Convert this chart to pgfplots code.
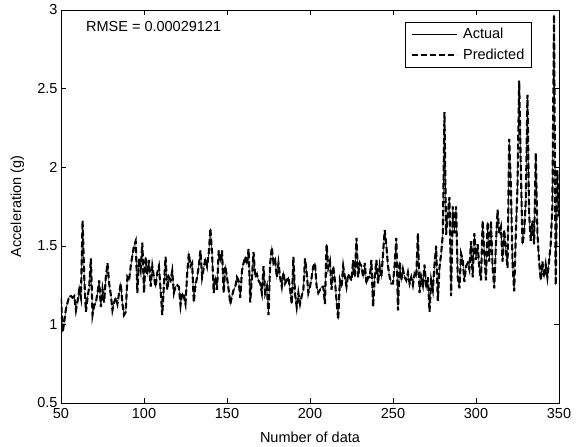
\documentclass[border=0pt]{standalone}
\usepackage{pgfplots}
\usepackage{pgfplotstable}
\pgfplotsset{compat=1.18}
\usepackage{fontspec}
\setmainfont{Liberation Sans}
\newcommand{\fs}{\fontsize{14.5bp}{17bp}\selectfont}
\pgfplotstableread{
x y
50 1.17
51 0.95
52 1.02
53 1.10
54 1.14
55 1.18
56 1.18
57 1.17
58 1.18
59 1.09
60 1.15
61 1.22
62 1.17
63 1.66
64 1.30
65 1.08
66 1.17
67 1.24
68 1.42
69 1.06
70 1.12
71 1.14
72 1.20
73 1.28
74 1.11
75 1.22
76 1.14
77 1.30
78 1.39
79 1.26
80 1.19
81 1.09
82 1.14
83 1.17
84 1.13
85 1.20
86 1.26
87 1.13
88 1.06
89 1.08
90 1.30
91 1.28
92 1.37
93 1.44
94 1.50
95 1.53
96 1.20
97 1.42
98 1.35
99 1.52
100 1.20
101 1.43
102 1.32
103 1.41
104 1.24
105 1.37
106 1.30
107 1.24
108 1.33
109 1.37
110 1.22
111 1.06
112 1.25
113 1.43
114 1.22
115 1.30
116 1.28
117 1.34
118 1.20
119 1.24
120 1.25
121 1.24
122 1.12
123 1.20
124 1.18
125 1.13
126 1.32
127 1.45
128 1.37
129 1.39
130 1.14
131 1.25
132 1.30
133 1.37
134 1.47
135 1.30
136 1.36
137 1.42
138 1.37
139 1.45
140 1.61
141 1.45
142 1.20
143 1.30
144 1.22
145 1.47
146 1.40
147 1.47
148 1.20
149 1.37
150 1.30
151 1.22
152 1.13
153 1.18
154 1.22
155 1.24
156 1.30
157 1.28
158 1.17
159 1.34
160 1.39
161 1.43
162 1.38
163 1.48
164 1.14
165 1.30
166 1.46
167 1.30
168 1.32
169 1.28
170 1.26
171 1.20
172 1.37
173 1.20
174 1.24
175 1.06
176 1.39
177 1.49
178 1.39
179 1.41
180 1.30
181 1.39
182 1.30
183 1.24
184 1.33
185 1.26
186 1.28
187 1.30
188 1.22
189 1.13
190 1.43
191 1.19
192 1.11
193 1.20
194 1.13
195 1.18
196 1.22
197 1.42
198 1.33
199 1.20
200 1.24
201 1.30
202 1.37
203 1.39
204 1.24
205 1.20
206 1.22
207 1.24
208 1.24
209 1.13
210 1.51
211 1.36
212 1.40
213 1.22
214 1.37
215 1.28
216 1.15
217 1.03
218 1.28
219 1.24
220 1.37
221 1.30
222 1.24
223 1.32
224 1.30
225 1.28
226 1.41
227 1.30
228 1.55
229 1.30
230 1.39
231 1.37
232 1.30
233 1.39
234 1.26
235 1.30
236 1.30
237 1.41
238 1.11
239 1.30
240 1.41
241 1.26
242 1.37
243 1.30
244 1.45
245 1.60
246 1.50
247 1.37
248 1.30
249 1.26
250 1.26
251 1.38
252 1.55
253 1.09
254 1.40
255 1.28
256 1.35
257 1.30
258 1.28
259 1.33
260 1.26
261 1.30
262 1.25
263 1.32
264 1.30
265 1.58
266 1.20
267 1.30
268 1.25
269 1.38
270 1.23
271 1.30
272 1.08
273 1.28
274 1.22
275 1.38
276 1.50
277 1.15
278 1.36
279 1.45
280 1.57
281 2.35
282 1.57
283 1.70
284 1.81
285 1.18
286 1.75
287 1.58
288 1.75
289 1.30
290 1.23
291 1.45
292 1.41
293 1.27
294 1.37
295 1.39
296 1.35
297 1.53
298 1.30
299 1.58
300 1.41
301 1.51
302 1.36
303 1.28
304 1.66
305 1.45
306 1.28
307 1.65
308 1.40
309 1.66
310 1.36
311 1.23
312 1.51
313 1.73
314 1.58
315 1.62
316 1.40
317 1.60
318 1.47
319 1.36
320 2.18
321 1.88
322 1.39
323 1.21
324 1.58
325 1.88
326 2.55
327 2.00
328 1.51
329 1.58
330 1.79
331 2.46
332 1.70
333 1.53
334 1.66
335 1.51
336 2.09
337 1.58
338 1.40
339 1.28
340 1.40
341 1.30
342 1.38
343 1.30
344 1.40
345 1.51
346 1.75
347 2.97
348 1.25
349 1.98
350 1.68
}\datatable
\begin{document}
\begin{tikzpicture}
\path[use as bounding box] (0,0) rectangle (577bp,447bp);
\begin{axis}[
  at={(61bp,44bp)}, anchor=south west,
  scale only axis, width=498bp, height=393bp,
  xmin=50, xmax=350, ymin=0.5, ymax=3,
  xtick={50,100,...,350}, ytick={0.5,1,...,3},
  tick align=inside, major tick length=5bp,
  tick style={black, line width=0.5bp},
  axis line style={black, line width=0.6bp},
  /pgf/number format/assume math mode=true,
  tick label style={font=\fs},
  xticklabel style={yshift=-1.5bp},
  label style={font=\fs},
  xlabel={Number of data},
  ylabel={Acceleration (g)},
  xlabel style={at={(axis description cs:0.5,-0.0865)}, anchor=center},
  ylabel style={at={(axis description cs:-0.0875,0.5)}, anchor=center},
  legend style={at={(axis description cs:0.944,0.969)}, anchor=north east,
    draw=black, line width=0.5bp, font=\fs,
    inner xsep=5bp, inner ysep=4.5bp, row sep=6bp,
    nodes={inner sep=1.5bp},
    /tikz/every odd column/.append style={column sep=4bp}},
  legend cell align=left,
  legend image code/.code={\draw[#1] (0bp,0bp) -- (45bp,0bp);},
]
\addplot[black, line width=0.6bp] table[x=x,y=y] {\datatable};
\addlegendentry{Actual}
\addplot[black, line width=2.1bp, dash pattern=on 6bp off 3bp] table[x=x,y=y] {\datatable};
\addlegendentry{Predicted}
\node[anchor=west, inner sep=0pt, font=\fs] at (axis cs:65,2.892) {RMSE = 0.00029121};
\end{axis}
\end{tikzpicture}
\end{document}
